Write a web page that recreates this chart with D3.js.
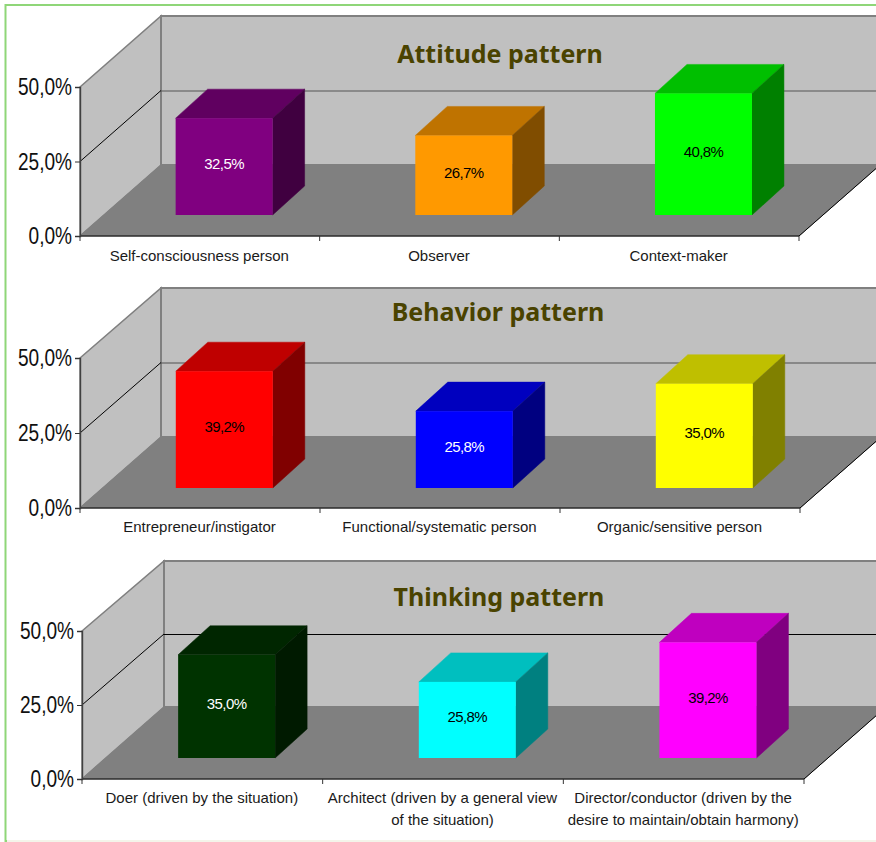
<!DOCTYPE html>
<html>
<head>
<meta charset="utf-8">
<style>html,body{margin:0;padding:0;background:#fff;overflow:hidden}svg{display:block}</style>
<script src="https://cdn.jsdelivr.net/npm/d3@7"></script>
</head>
<body>
<svg id="chart" width="876" height="842"></svg>
<script>
// Survey shares per pattern, in percent
const attitudeCategories = [["Self-consciousness person"], ["Observer"], ["Context-maker"]];
const attitudeValues = [32.5, 26.7, 40.8];
const attitudeColors = ["#800080", "#ff9900", "#00ff00"];

const behaviorCategories = [["Entrepreneur/instigator"], ["Functional/systematic person"], ["Organic/sensitive person"]];
const behaviorValues = [39.2, 25.8, 35.0];
const behaviorColors = ["#ff0000", "#0000ff", "#ffff00"];

const thinkingCategories = [
  ["Doer (driven by the situation)"],
  ["Architect (driven by a general view", "of the situation)"],
  ["Director/conductor (driven by the", "desire to maintain/obtain harmony)"]
];
const thinkingValues = [35.0, 25.8, 39.2];
const thinkingColors = ["#003300", "#00ffff", "#ff00ff"];

const yTicks = [0, 25, 50];
const darkFills = ["#800080", "#0000ff", "#003300"];

// Panel placement: plot box of the front plane and the 3D depth offset
const panels = [
  { title: "Attitude pattern", titleX: 500, titleY: 54, cats: attitudeCategories, vals: attitudeValues, cols: attitudeColors,
    x0: 80, x1: 799, y0: 236, y50: 87, depthX: 81, depthY: 71, backTop: 16, barBase: 215, barSpan: 149, labelY: 25, gridColor: "#555" },
  { title: "Behavior pattern", titleX: 498, titleY: 312, cats: behaviorCategories, vals: behaviorValues, cols: behaviorColors,
    x0: 80, x1: 800, y0: 508, y50: 358, depthX: 81, depthY: 71, backTop: 288, barBase: 488, barSpan: 149, labelY: 24, gridColor: "#505050" },
  { title: "Thinking pattern", titleX: 499, titleY: 597, cats: thinkingCategories, vals: thinkingValues, cols: thinkingColors,
    x0: 82, x1: 804, y0: 779, y50: 631, depthX: 82, depthY: 72, backTop: 561, barBase: 758, barSpan: 147.5, labelY: 24, gridColor: "#000" }
];

const svg = d3.select("#chart");

// Page frame
svg.append("rect").attr("x", 5.5).attr("y", 5).attr("width", 900).attr("height", 836)
  .attr("fill", "none").attr("stroke", "#8fd678").attr("stroke-width", 2);
svg.append("line").attr("x1", 7).attr("x2", 876).attr("y1", 841).attr("y2", 841)
  .attr("stroke", "#f4f4ea").attr("stroke-width", 2);

const poly = pts => pts.map(q => q.join(",")).join(" ");
const percent = d => d3.format(".1f")(d).replace(".", ",") + "%";

panels.forEach(p => {
  const g = svg.append("g");
  const x = d3.scaleBand().domain(d3.range(p.vals.length)).range([p.x0, p.x1]);
  const yFront = d3.scaleLinear().domain([0, 50]).range([p.y0, p.y50]);
  const yBack = d3.scaleLinear().domain([0, 50]).range([p.y0 - p.depthY, p.backTop]);
  const yBar = d3.scaleLinear().domain([0, 50]).range([p.barBase, p.barBase - p.barSpan]);

  const bx0 = p.x0 + p.depthX, bx1 = p.x1 + p.depthX, backFloor = yBack(0), backTop = yBack(50);

  // Side wall, back wall and floor
  g.append("polygon").attr("points", poly([[p.x0, yFront(0)], [bx0, backFloor], [bx0, backTop], [p.x0, yFront(50)]]))
    .attr("fill", "#c0c0c0").attr("stroke", "#808080").attr("stroke-width", 1.6);
  g.append("polygon").attr("points", poly([[bx0, backFloor], [bx1, backFloor], [bx1, backTop], [bx0, backTop]]))
    .attr("fill", "#c0c0c0").attr("stroke", "#808080").attr("stroke-width", 2);
  g.append("polygon").attr("points", poly([[p.x0, yFront(0)], [p.x1, yFront(0)], [bx1, backFloor], [bx0, backFloor]]))
    .attr("fill", "#808080").attr("stroke", "#808080").attr("stroke-width", 1);

  // Gridline bending from the side wall onto the back wall
  g.append("line").attr("x1", p.x0).attr("y1", yFront(25)).attr("x2", bx0).attr("y2", yBack(25))
    .attr("stroke", "#000").attr("stroke-width", 1);
  g.append("line").attr("x1", bx0).attr("y1", yBack(25) + 0.5).attr("x2", bx1).attr("y2", yBack(25) + 0.5)
    .attr("stroke", p.gridColor).attr("stroke-width", 1.2);

  // Floor edges in black
  g.append("polyline").attr("points", poly([[p.x0, yFront(0)], [p.x1, yFront(0)], [bx1, backFloor]]))
    .attr("fill", "none").attr("stroke", "#000").attr("stroke-width", 1);

  // Boxes: front face, top face, side face
  const depthBarX = 32, depthBarY = 29, barWidth = 97, barShift = 24.3;
  p.vals.forEach((v, i) => {
    const c = p.cols[i];
    const rgb = d3.rgb(c);
    const shade = k => d3.rgb(rgb.r * k, rgb.g * k, rgb.b * k).formatHex();
    const left = x(i) + (x.bandwidth() - barWidth) / 2 + barShift;
    const right = left + barWidth, top = yBar(v), base = yBar(0);
    const topFill = shade(0.75), sideFill = shade(0.5);
    g.append("polygon").attr("points", poly([[left, top], [right, top], [right + depthBarX, top - depthBarY], [left + depthBarX, top - depthBarY]]))
      .attr("fill", topFill).attr("stroke", topFill).attr("stroke-width", 0.5);
    g.append("polygon").attr("points", poly([[right, top], [right + depthBarX, top - depthBarY], [right + depthBarX, base - depthBarY], [right, base]]))
      .attr("fill", sideFill).attr("stroke", sideFill).attr("stroke-width", 0.5);
    g.append("rect").attr("x", left).attr("y", top).attr("width", barWidth).attr("height", base - top).attr("fill", c);
    g.append("text").attr("x", (left + right) / 2).attr("y", (top + base) / 2 + 2.5)
      .attr("text-anchor", "middle")
      .attr("font-family", "'Liberation Sans', Arial, sans-serif").attr("font-size", 15).attr("letter-spacing", -0.6)
      .attr("fill", darkFills.includes(c) ? "#fff" : "#000")
      .text(percent(v));
  });

  // Value axis with condensed labels
  const labelScale = 0.83;
  const axisY = d3.axisLeft(yFront).tickValues(yTicks).tickSize(5).tickPadding(3).tickFormat(percent);
  const ay = g.append("g").attr("transform", `translate(${p.x0},0)`).call(axisY);
  ay.select(".domain").attr("stroke", "#404040").attr("stroke-width", 1.4);
  ay.selectAll(".tick line").attr("stroke", "#333");
  ay.selectAll("text").attr("font-family", "'Liberation Sans', Arial, sans-serif")
    .attr("font-size", 23).attr("fill", "#111").attr("dy", "0.33em")
    .attr("x", -8 / labelScale).attr("transform", `scale(${labelScale},1)`);

  // Category ticks and labels
  const ticksX = [p.x0, ...x.domain().map(i => x(i) + x.bandwidth())];
  g.selectAll(".xtick").data(ticksX).enter().append("line")
    .attr("x1", d => d).attr("x2", d => d).attr("y1", p.y0).attr("y2", p.y0 + 5).attr("stroke", "#333");
  p.cats.forEach((lines, i) => {
    const t = g.append("text").attr("text-anchor", "middle")
      .attr("font-family", "'Liberation Sans', Arial, sans-serif").attr("font-size", 15).attr("fill", "#1a1a1a");
    lines.forEach((line, k) => {
      t.append("tspan").attr("x", x(i) + x.bandwidth() / 2 - 0.5).attr("y", p.y0 + p.labelY + k * 21.5).text(line);
    });
  });

  // Panel title on the back wall
  g.append("text").attr("x", p.titleX).attr("y", p.titleY + 9).attr("text-anchor", "middle")
    .attr("font-family", "'Noto Sans', 'Open Sans', sans-serif").attr("font-weight", 700).attr("font-size", 25)
    .attr("fill", "#4a4300").text(p.title);
});
</script>
</body>
</html>
